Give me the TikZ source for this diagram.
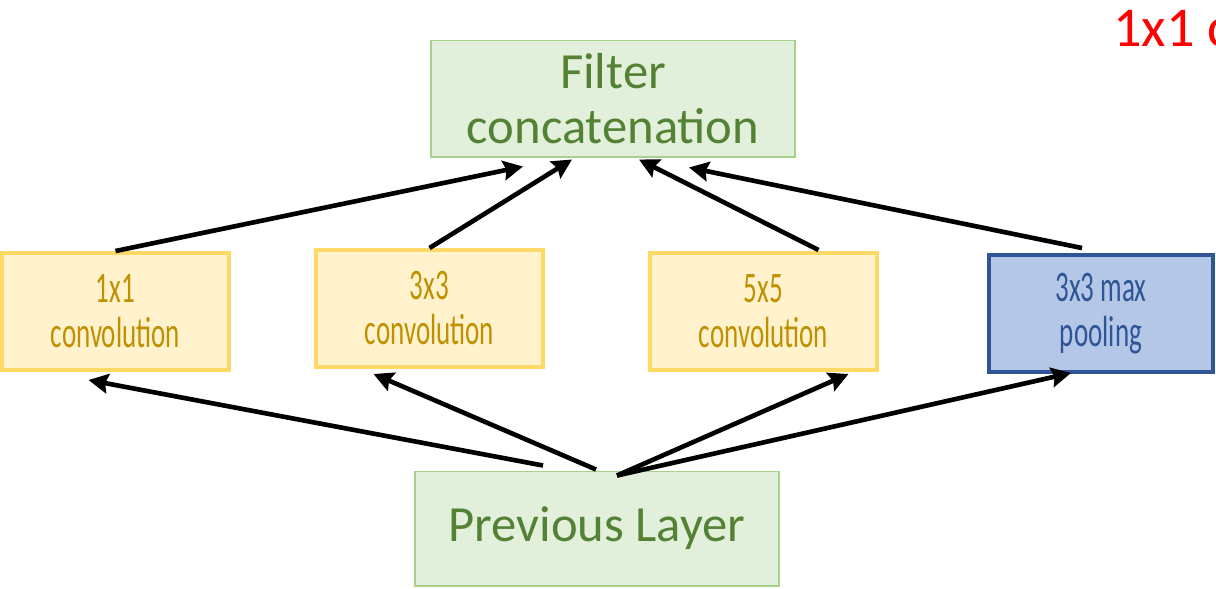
\documentclass[tikz,border=0pt]{standalone}
\usepackage{fontspec}
\setmainfont{Carlito}
\newfontfamily\narrowfont[FakeStretch=0.62]{Carlito}
\usetikzlibrary{arrows.meta,calc}
\definecolor{greenfill}{HTML}{E2EFDA}
\definecolor{greenline}{HTML}{A9D18E}
\definecolor{greentext}{HTML}{548235}
\definecolor{yellowfill}{HTML}{FFF2CC}
\definecolor{yellowline}{HTML}{FFD966}
\definecolor{yellowtext}{HTML}{BF9000}
\definecolor{bluefill}{HTML}{B4C7E7}
\definecolor{blueline}{HTML}{2F5597}

\begin{document}
\begin{tikzpicture}[x=0.025cm,y=-0.025cm]
\tikzset{layerbox/.style={draw=greenline,fill=greenfill,line width=1.4pt,text=greentext,
    align=center,inner sep=0pt,minimum width=9.1cm,
    font=\fontsize{36}{39}\selectfont},
  convbox/.style={draw=yellowline,fill=yellowfill,line width=2.8pt,text=yellowtext,
    align=center,inner sep=0pt,minimum width=5.675cm,minimum height=2.925cm,
    font=\narrowfont\fontsize{31}{32}\selectfont},
  poolbox/.style={convbox,draw=blueline,fill=bluefill,text=blueline,minimum width=5.6cm},
  arr/.style={line width=3.3pt,-{Stealth[length=14pt,width=14pt,inset=2pt]}}}
\clip (0,0) rectangle (1216,588);

\node[layerbox,minimum height=2.9cm] (concat) at (613,98.5) {Filter\\concatenation};
\node[layerbox,minimum height=2.85cm] (prev) at (597,528.5) {Previous Layer};
\node[convbox] (conv1) at (115.5,311.5) {1x1\\convolution};
\node[convbox] (conv3) at (429.5,308.5) {3x3\\convolution};
\node[convbox] (conv5) at (763.5,311.5) {5x5\\convolution};
\node[poolbox] (pool) at (1101,313.5) {3x3 max\\pooling};
\node[anchor=base west,text=red,inner sep=0pt,font=\fontsize{40}{42}\selectfont] (note) at (1113,46) {1x1 c};

\draw[arr] (conv1.north) -- ($(concat.south)+(-90,9)$);
\draw[arr] (conv3.north) -- ($(concat.south)+(-41,2)$);
\draw[arr] ($(conv5.north)+(55,-1)$) -- ($(concat.south)+(26,2)$);
\draw[arr] ($(pool.north)+(-19,-5)$) -- ($(concat.south)+(76,10)$);

\draw[arr] ($(prev.north)+(-54,-5)$) -- ($(conv1.south)+(-27,8)$);
\draw[arr] ($(prev.north)+(-1,-1)$) -- ($(conv3.south)+(-56,5)$);
\draw[arr] ($(prev.north)+(20,5)$) -- ($(conv5.south)+(85,2)$);
\draw[arr] ($(prev.north)+(20,5)$) -- ($(pool.south)+(-30,-1)$);
\end{tikzpicture}
\end{document}
